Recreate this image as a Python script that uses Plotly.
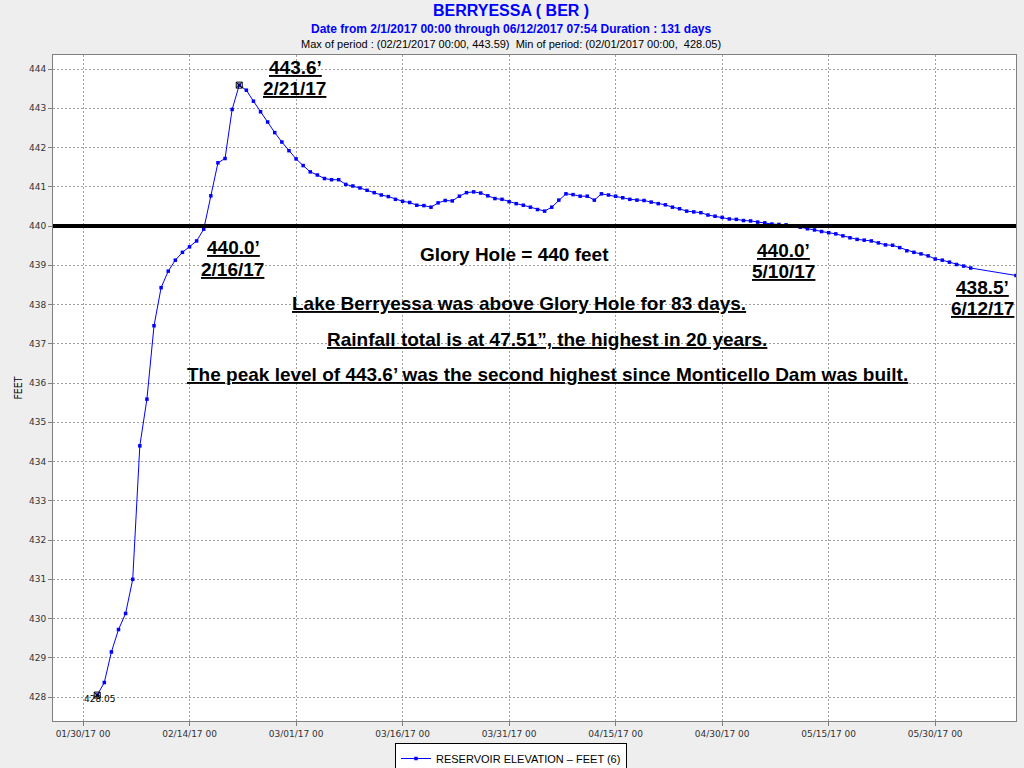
import plotly.graph_objects as go
import pandas as pd

# ---------------- data ----------------
START_DATE = "2017-02-01"
ELEV_DAILY = [
    428.05, 428.37, 429.15, 429.72, 430.13, 431.00, 434.40, 435.59, 437.46, 438.43,
    438.85, 439.13, 439.33, 439.47, 439.62, 439.92, 440.77, 441.61, 441.72, 442.97,
    443.59, 443.46, 443.18, 442.91, 442.65, 442.38, 442.14, 441.92, 441.71, 441.54,
    441.38, 441.30, 441.21, 441.18, 441.18, 441.06, 441.02, 440.97, 440.91, 440.85,
    440.79, 440.75, 440.68, 440.63, 440.60, 440.53, 440.52, 440.48, 440.59, 440.65,
    440.64, 440.76, 440.85, 440.87, 440.84, 440.77, 440.70, 440.68, 440.62, 440.57,
    440.53, 440.48, 440.42, 440.38, 440.48, 440.66, 440.82, 440.80, 440.76, 440.76,
    440.66, 440.82, 440.79, 440.76, 440.72, 440.68, 440.66, 440.65, 440.61, 440.57,
    440.54, 440.48, 440.44, 440.38, 440.36, 440.34, 440.28, 440.25, 440.22, 440.18,
    440.17, 440.14, 440.13, 440.10, 440.08, 440.05, 440.04, 440.03, 440.00, 439.97,
    439.93, 439.90, 439.86, 439.83, 439.80, 439.75, 439.70, 439.66, 439.64, 439.62,
    439.57, 439.52, 439.51, 439.45, 439.37, 439.33, 439.29, 439.24, 439.16, 439.13,
    439.08, 439.02, 438.98, 438.93,
]
LAST_TIME = "2017-06-10 09:00"
LAST_ELEV = 438.74
GLORY_HOLE = 440.0

Y_TICKS = list(range(428, 445))
X_TICK0 = "2017-01-30"
X_RANGE = ["2017-01-25 18:36", "2017-06-10 09:00"]
Y_RANGE = [427.39, 444.357]

TITLE1 = "BERRYESSA ( BER )"
TITLE2 = "Date from 2/1/2017 00:00 through 06/12/2017 07:54 Duration : 131 days"
TITLE3 = "Max of period : (02/21/2017 00:00, 443.59)  Min of period: (02/01/2017 00:00,  428.05)"
SERIES_NAME = "RESERVOIR ELEVATION \u2013 FEET (6)"

dates = list(pd.date_range(START_DATE, periods=len(ELEV_DAILY), freq="D")) + [pd.Timestamp(LAST_TIME)]
elev = ELEV_DAILY + [LAST_ELEV]

imax = max(range(len(elev)), key=lambda i: elev[i])
imin = min(range(len(elev)), key=lambda i: elev[i])

# ---------------- layout geometry ----------------
W, H = 1024, 768
L, R, T, B = 53, 8, 55, 47
PW, PH = W - L - R, H - T - B


def px(xp):
    return (xp - L) / PW


def py(yp):
    return (H - B - yp) / PH


fig = go.Figure()

fig.add_trace(go.Scatter(
    x=dates, y=elev, mode="lines+markers", name=SERIES_NAME,
    line=dict(color="#0000FF", width=1),
    marker=dict(symbol="square", size=3.5, color="#0000FF"),
    hoverinfo="x+y",
))
fig.add_trace(go.Scatter(
    x=[dates[imax], dates[imin]], y=[elev[imax], elev[imin]], mode="markers",
    marker=dict(symbol="square-x-open", size=6, color="#000000", line=dict(width=1)),
    showlegend=False, hoverinfo="skip",
))

fig.add_shape(type="line", xref="paper", x0=0, x1=1, yref="y", y0=GLORY_HOLE, y1=GLORY_HOLE,
              line=dict(color="#000000", width=4))

ann = []
# titles
ann.append(dict(text="<b>%s</b>" % TITLE1, x=px(511), y=py(11), font=dict(family="Liberation Sans", size=16, color="#0000FF")))
ann.append(dict(text="<b>%s</b>" % TITLE2, x=px(511), y=py(29), font=dict(family="Liberation Sans", size=12, color="#0000FF")))
ann.append(dict(text=TITLE3, x=px(511), y=py(44), font=dict(family="Liberation Sans", size=11, color="#000000")))
# min label
ann.append(dict(text="%.2f" % elev[imin], x=px(100), y=py(699), font=dict(family="DejaVu Sans", size=9, color="#000000")))

big = dict(family="Liberation Sans, Arial", size=19, color="#000000", weight="bold", lineposition="under")
big_plain = dict(family="Liberation Sans, Arial", size=19, color="#000000", weight="bold")
labels = [
    ("443.6\u2019", 295, 68, big), ("2/21/17", 294, 89, big),
    ("440.0\u2019", 233, 248, big), ("2/16/17", 232, 269, big),
    ("Glory Hole = 440 feet", 514, 254, big_plain),
    ("440.0\u2019", 783, 250, big), ("5/10/17", 783, 271, big),
    ("438.5\u2019", 982, 287, big), ("6/12/17", 982, 308, big),
    ("Lake Berryessa was above Glory Hole for 83 days.", 519, 303, big),
    ("Rainfall total is at 47.51\u201d, the highest in 20 years.", 547, 339, big),
    ("The peak level of 443.6\u2019 was the second highest since Monticello Dam was built.", 547, 374, big),
]
for txt, xx, yy, f in labels:
    ann.append(dict(text=txt, x=px(xx), y=py(yy), font=f))

for a in ann:
    a.update(xref="paper", yref="paper", showarrow=False, xanchor="center", yanchor="middle")

grid = dict(showgrid=True, gridcolor="#A0A0A0", gridwidth=1, griddash="2px,2px")

fig.update_layout(
    width=W, height=H,
    margin=dict(l=L, r=R, t=T, b=B, pad=0, autoexpand=False),
    paper_bgcolor="#EEEEEE", plot_bgcolor="#FFFFFF",
    annotations=ann,
    showlegend=True,
    legend=dict(orientation="h", xref="container", yref="container",
                x=511 / W, xanchor="center", y=1 - 743 / H, yanchor="top",
                bordercolor="#000000", borderwidth=1, bgcolor="#FFFFFF",
                font=dict(family="Liberation Sans", size=11, color="#000000"),
                itemwidth=30, tracegroupgap=0),
    xaxis=dict(type="date", range=X_RANGE, tick0=X_TICK0, dtick=15 * 86400000,
               tickformat="%m/%d/%y %H", ticks="outside", ticklen=4, tickcolor="#808080",
               tickfont=dict(family="DejaVu Sans", size=9, color="#333333"),
               showline=True, linecolor="#808080", linewidth=1, mirror=True,
               zeroline=False, automargin=False, **grid),
    yaxis=dict(range=Y_RANGE, tickvals=Y_TICKS, ticks="outside", ticklen=4, tickcolor="#808080",
               tickfont=dict(family="DejaVu Sans", size=9, color="#333333"),
               showline=True, linecolor="#808080", linewidth=1, mirror=True,
               zeroline=False, automargin=False,
               title=dict(text="FEET", font=dict(family="DejaVu Sans Condensed, DejaVu Sans", size=10.5, color="#000000"), standoff=4),
               **grid),
)

fig.write_html(
    "out.html",
    config={"displayModeBar": False},
    post_script="document.body.style.margin='0';document.body.style.background='#EEEEEE';",
)
